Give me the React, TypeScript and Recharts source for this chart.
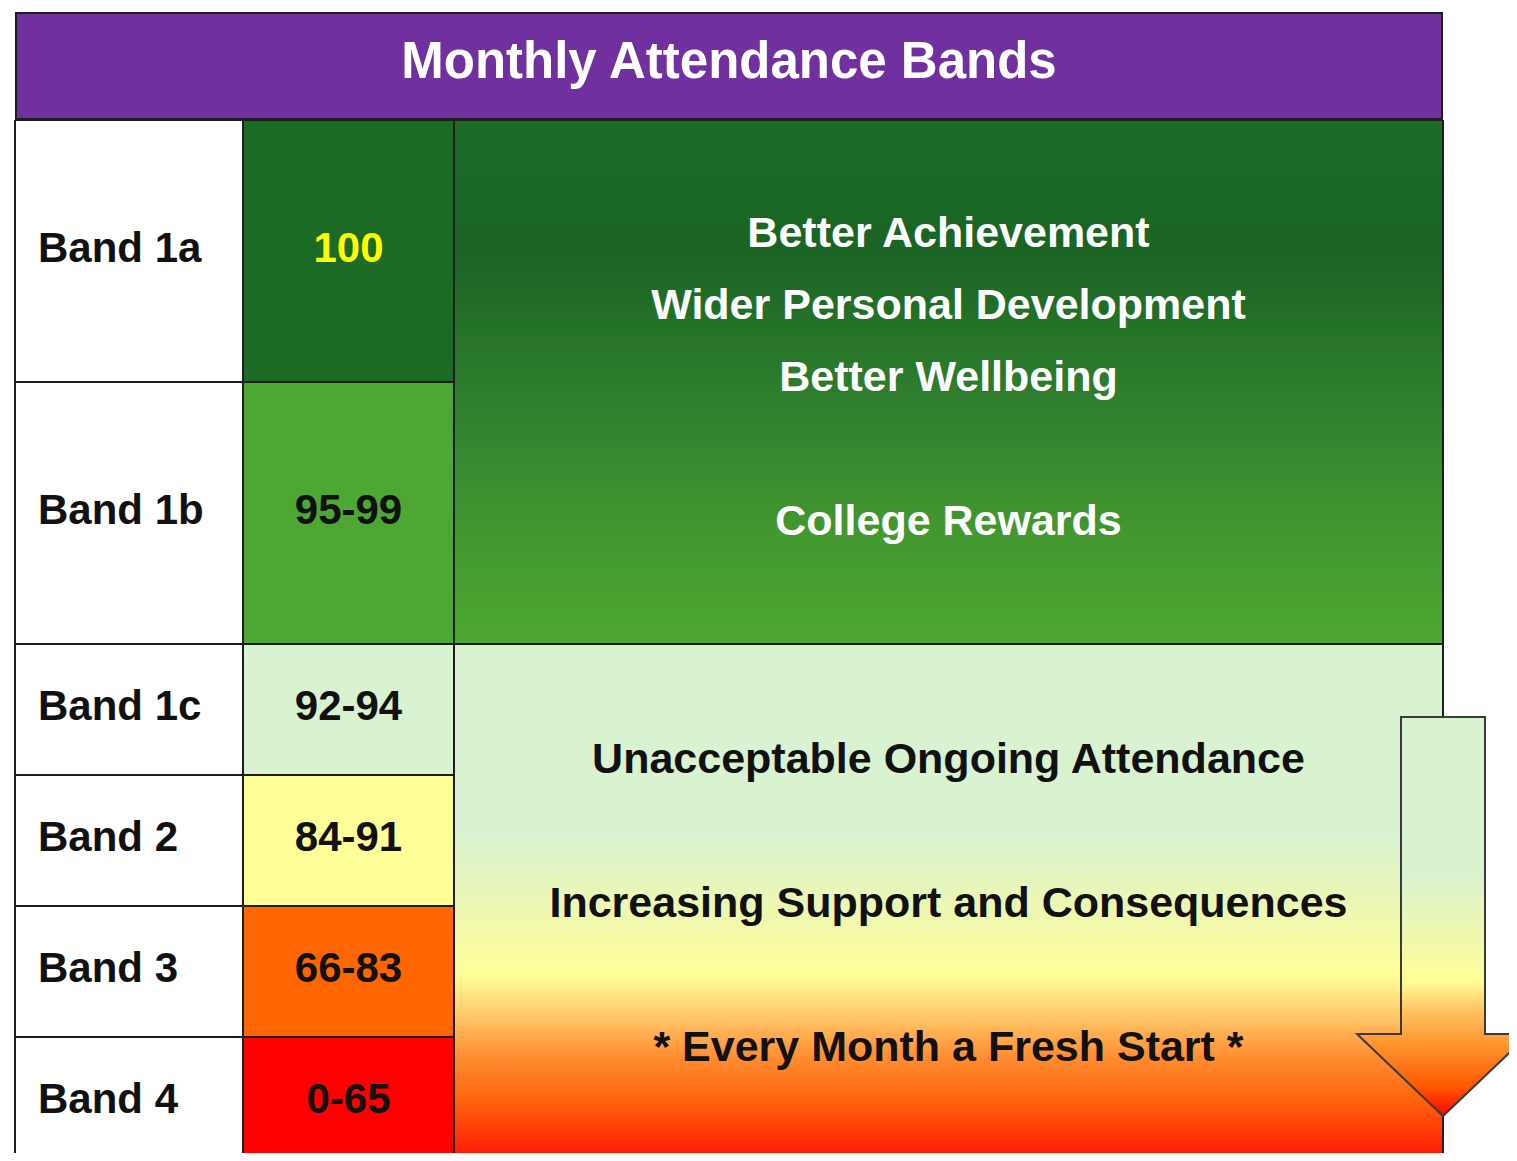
import React from 'react';
import { BarChart, Bar, XAxis, YAxis } from 'recharts';

const bandNames = ['Band 1a', 'Band 1b', 'Band 1c', 'Band 2', 'Band 3', 'Band 4'];
const bandRanges = ['100', '95-99', '92-94', '84-91', '66-83', '0-65'];
// how many table rows each band takes up
const bandRows = [2, 2, 1, 1, 1, 1];
const bandColors = ['#1c6b25', '#4ea732', '#d9f2d0', '#ffff99', '#ff6600', '#ff0000'];
const rangeTextColors = ['#ffff00', '#111111', '#111111', '#111111', '#111111', '#111111'];

const rewardLines = ['Better Achievement', 'Wider Personal Development', 'Better Wellbeing', '', 'College Rewards'];
const supportLines = ['Unacceptable Ongoing Attendance', '', 'Increasing Support and Consequences', '', '* Every Month a Fresh Start *'];
// bands 1a and 1b share the rewards panel, the rest share the support panel
const rewardBandCount = 2;

const sum = (arr: number[]) => arr.reduce((a, b) => a + b, 0);

const tableRow: Record<string, string | number> = { name: 'bands' };
bandNames.forEach((_, i) => {
    tableRow[`name${i}`] = bandRows[i];
    tableRow[`range${i}`] = bandRows[i];
});
tableRow.rewards = sum(bandRows.slice(0, rewardBandCount));
tableRow.support = sum(bandRows.slice(rewardBandCount));
const tableData = [tableRow];
const totalRows = sum(bandRows);

const FONT = '"Liberation Sans", Arial, sans-serif';
const LINE = '#1e1e1e';
const LINE_HEIGHT = 72;

const box = (p: any) => {
    const top = Math.min(p.y, p.y + p.height);
    return { x: p.x, y: top, w: p.width, h: Math.abs(p.height) };
};

const NameCell = (props: any) => {
    const { x, y, w, h } = box(props);
    return (
        <g>
            <rect x={x} y={y} width={w} height={h} fill="#ffffff" stroke={LINE} strokeWidth={2} />
            <text x={x + 23} y={y + h / 2 - 4} dy="0.35em" fontFamily={FONT} fontWeight="bold" fontSize={42} fill="#111111">
                {bandNames[props.band]}
            </text>
        </g>
    );
};

const RangeCell = (props: any) => {
    const { x, y, w, h } = box(props);
    return (
        <g>
            <rect x={x} y={y} width={w} height={h} fill={bandColors[props.band]} stroke={LINE} strokeWidth={2} />
            <text x={x + w / 2} y={y + h / 2 - 4} dy="0.35em" textAnchor="middle" fontFamily={FONT} fontWeight="bold" fontSize={42} fill={rangeTextColors[props.band]}>
                {bandRanges[props.band]}
            </text>
        </g>
    );
};

const textBlock = (lines: string[], cx: number, cy: number, color: string) =>
    lines.map((line, i) => (
        <text key={i} x={cx} y={cy + (i - (lines.length - 1) / 2) * LINE_HEIGHT} dy="0.35em" textAnchor="middle"
            fontFamily={FONT} fontWeight="bold" fontSize={43} fill={color}>
            {line}
        </text>
    ));

const RewardsPanel = (props: any) => {
    const { x, y, w, h } = box(props);
    return (
        <g>
            <rect x={x} y={y} width={w} height={h} fill="url(#rewardsFill)" stroke={LINE} strokeWidth={2} />
            {textBlock(rewardLines, x + w / 2, y + h / 2 - 6, '#ffffff')}
        </g>
    );
};

const SupportPanel = (props: any) => {
    const { x, y, w, h } = box(props);
    const cx = x + w;
    const top = y + 73;
    const shoulder = y + 390;
    const tip = y + 472;
    const arrow = `M${cx - 42},${top} L${cx + 42},${top} L${cx + 42},${shoulder} L${cx + 86},${shoulder} L${cx},${tip} L${cx - 86},${shoulder} L${cx - 42},${shoulder} Z`;
    return (
        <g>
            <rect x={x} y={y} width={w} height={h} fill="url(#supportFill)" stroke={LINE} strokeWidth={2} />
            {textBlock(supportLines, x + w / 2, y + h / 2 - 4, '#111111')}
            <path d={arrow} fill="url(#arrowFill)" stroke="#3a3a3a" strokeWidth={2} strokeLinejoin="miter" />
        </g>
    );
};

export default function App() {
    return (
        <div style={{ position: 'relative', width: 1509, height: 1153, overflow: 'hidden', marginBottom: -8 }}>
            <div
                style={{
                    position: 'absolute', left: 7, top: 4, width: 1428, height: 108, boxSizing: 'border-box',
                    background: '#7030a0', border: `2px solid ${LINE}`, display: 'flex', alignItems: 'center',
                    justifyContent: 'center', paddingBottom: 12, color: '#ffffff', fontFamily: FONT,
                    fontWeight: 'bold', fontSize: 51, zIndex: 1,
                }}
            >
                Monthly Attendance Bands
            </div>
            <div style={{ position: 'absolute', left: 0, top: 0 }}>
                <BarChart
                    width={1509}
                    height={1170}
                    data={tableData}
                    margin={{ top: 112, right: 73, bottom: 10, left: 6 }}
                    barCategoryGap={0}
                    barGap={0}
                >
                    <defs>
                        <linearGradient id="rewardsFill" x1="0" y1="0" x2="0" y2="1">
                            <stop offset="0" stopColor="#1c6c27" />
                            <stop offset="0.25" stopColor="#1a6424" />
                            <stop offset="0.6" stopColor="#348530" />
                            <stop offset="0.8" stopColor="#43992f" />
                            <stop offset="1" stopColor="#4ea730" />
                        </linearGradient>
                        <linearGradient id="supportFill" x1="0" y1="0" x2="0" y2="1">
                            <stop offset="0" stopColor="#d9f2d0" />
                            <stop offset="0.36" stopColor="#d9f2d0" />
                            <stop offset="0.55" stopColor="#f3f9a8" />
                            <stop offset="0.63" stopColor="#ffff99" />
                            <stop offset="0.7" stopColor="#ffd070" />
                            <stop offset="0.79" stopColor="#ff8c30" />
                            <stop offset="0.86" stopColor="#ff6a10" />
                            <stop offset="1" stopColor="#ff0a00" />
                        </linearGradient>
                        <linearGradient id="arrowFill" x1="0" y1="0" x2="0" y2="1">
                            <stop offset="0" stopColor="#d9f2d0" />
                            <stop offset="0.38" stopColor="#d9f2d0" />
                            <stop offset="0.58" stopColor="#f3f9a8" />
                            <stop offset="0.66" stopColor="#ffff99" />
                            <stop offset="0.74" stopColor="#ffc060" />
                            <stop offset="0.84" stopColor="#ff8a25" />
                            <stop offset="0.93" stopColor="#ff5500" />
                            <stop offset="1" stopColor="#ff0000" />
                        </linearGradient>
                    </defs>
                    <XAxis dataKey="name" type="category" hide />
                    <YAxis type="number" domain={[0, totalRows]} reversed hide allowDataOverflow />
                    {bandNames.map((_, i) => (
                        <Bar
                            key={`name${i}`}
                            dataKey={`name${i}`}
                            stackId="names"
                            barSize={228}
                            isAnimationActive={false}
                            shape={(p: any) => <NameCell {...p} band={i} />}
                        />
                    ))}
                    {bandNames.map((_, i) => (
                        <Bar
                            key={`range${i}`}
                            dataKey={`range${i}`}
                            stackId="ranges"
                            barSize={211}
                            isAnimationActive={false}
                            shape={(p: any) => <RangeCell {...p} band={i} />}
                        />
                    ))}
                    <Bar dataKey="rewards" stackId="panels" barSize={989} isAnimationActive={false} shape={(p: any) => <RewardsPanel {...p} />} />
                    <Bar dataKey="support" stackId="panels" barSize={989} isAnimationActive={false} shape={(p: any) => <SupportPanel {...p} />} />
                </BarChart>
            </div>
        </div>
    );
}
